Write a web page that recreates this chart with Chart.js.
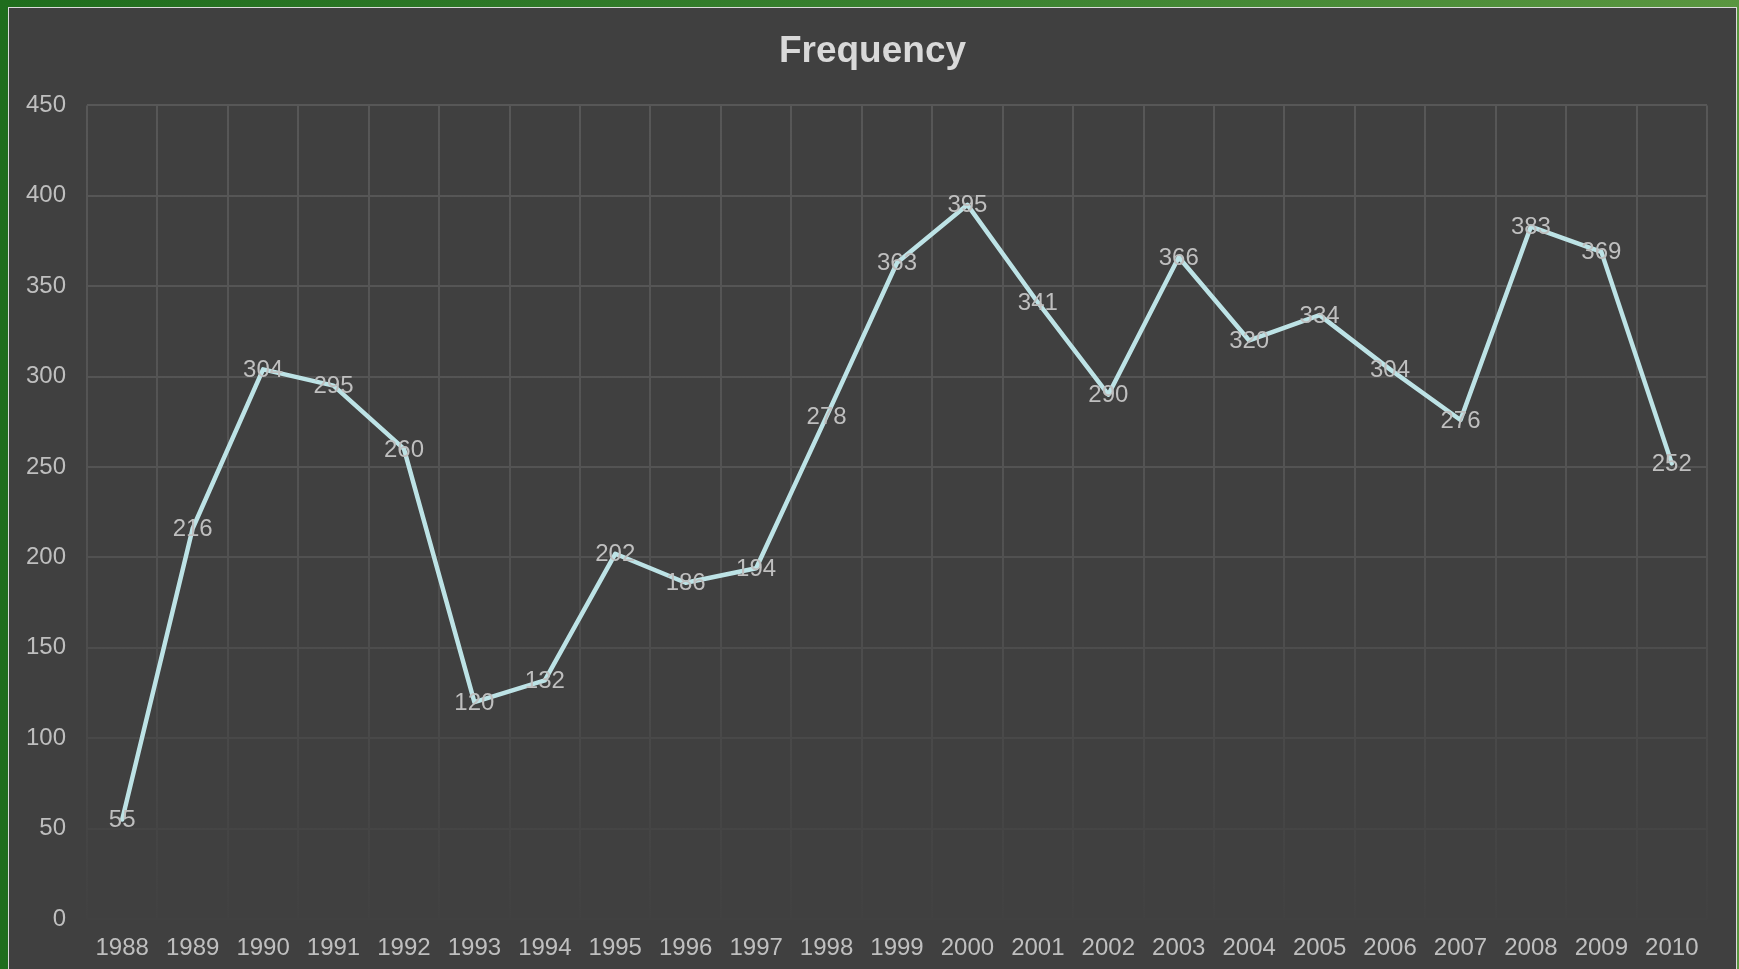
<!DOCTYPE html>
<html>
<head>
<meta charset="utf-8">
<title>Frequency</title>
<script src="https://cdn.jsdelivr.net/npm/chart.js@4/dist/chart.umd.min.js"></script>
<style>
    html, body {
        margin: 0;
        padding: 0;
        width: 1739px;
        height: 969px;
        overflow: hidden;
        background: linear-gradient(to right, #1f6d1d 0%, #3a8230 55%, #5a9640 100%);
    }
    .frame {
        position: absolute;
        left: 8px;
        top: 7px;
        width: 1727px;
        height: 980px;
        border-left: 1px solid #dcdcdc;
        border-top: 1px solid #dcdcdc;
        border-right: 1px solid #dcdcdc;
        background: #404040;
    }
    .chart-box {
        position: relative;
        width: 1727px;
        height: 961px;
    }
</style>
</head>
<body>
<div class="frame">
    <div class="chart-box">
        <canvas id="freqchart"></canvas>
    </div>
</div>
<script>
const years = ['1988', '1989', '1990', '1991', '1992', '1993', '1994', '1995', '1996', '1997', '1998', '1999',
    '2000', '2001', '2002', '2003', '2004', '2005', '2006', '2007', '2008', '2009', '2010'];
const frequency = [55, 216, 304, 295, 260, 120, 132, 202, 186, 194, 278, 363,
    395, 341, 290, 366, 320, 334, 304, 276, 383, 369, 252];
const yTicks = [0, 50, 100, 150, 200, 250, 300, 350, 400, 450];

const labelColor = '#bfbfbf';
const fontFamily = '"Liberation Sans", Arial, sans-serif';

// grid fades out toward the bottom of the plot
let gridGradient = null;
function gridColor(context) {
    const chart = context.chart;
    const area = chart.chartArea;
    if (!area) return '#545454';
    if (!gridGradient) {
        gridGradient = chart.ctx.createLinearGradient(0, area.top, 0, area.bottom);
        gridGradient.addColorStop(0, '#575757');
        gridGradient.addColorStop(0.5, '#535353');
        gridGradient.addColorStop(0.8, '#484848');
        gridGradient.addColorStop(1, '#414141');
    }
    return gridGradient;
}

// value labels sitting on top of each point
const valueLabels = {
    id: 'valueLabels',
    afterDatasetsDraw(chart) {
        const ctx = chart.ctx;
        const meta = chart.getDatasetMeta(0);
        ctx.save();
        ctx.font = '24px ' + fontFamily;
        ctx.fillStyle = labelColor;
        ctx.textAlign = 'center';
        ctx.textBaseline = 'middle';
        meta.data.forEach((pt, i) => {
            ctx.fillText(chart.data.datasets[0].data[i], pt.x, pt.y + 1);
        });
        ctx.restore();
    }
};

const ctx = document.getElementById('freqchart').getContext('2d');
new Chart(ctx, {
    type: 'line',
    data: {
        labels: years,
        datasets: [{
            label: 'Frequency',
            data: frequency,
            borderColor: '#bde3e6',
            borderWidth: 4.5,
            pointRadius: 0,
            pointHoverRadius: 0,
            tension: 0,
            borderJoinStyle: 'round',
            borderCapStyle: 'round'
        }]
    },
    options: {
        responsive: true,
        maintainAspectRatio: false,
        animation: false,
        layout: {
            padding: 0
        },
        plugins: {
            legend: { display: false },
            tooltip: { enabled: false },
            title: {
                display: true,
                text: 'Frequency',
                color: '#d9d9d9',
                font: { family: fontFamily, size: 37, weight: 'bold' },
                padding: { top: 22, bottom: 31 }
            }
        },
        scales: {
            x: {
                offset: true,
                grid: {
                    offset: true,
                    color: gridColor,
                    lineWidth: 2,
                    drawTicks: false
                },
                border: { display: false },
                ticks: {
                    color: labelColor,
                    font: { family: fontFamily, size: 24 },
                    padding: 15,
                    maxRotation: 0,
                    autoSkip: false
                },
                afterFit(scale) {
                    scale.height = 50;
                }
            },
            y: {
                min: 0,
                max: 450,
                afterBuildTicks(scale) {
                    scale.ticks = yTicks.map(v => ({ value: v }));
                },
                grid: {
                    color: gridColor,
                    lineWidth: 2,
                    drawTicks: false
                },
                border: { display: false },
                ticks: {
                    color: labelColor,
                    font: { family: fontFamily, size: 24 },
                    padding: 21
                },
                afterFit(scale) {
                    scale.width = 78;
                }
            },
            // empty right axis, only keeps the margin on the right side
            yRight: {
                position: 'right',
                min: 0,
                max: 450,
                grid: { display: false },
                border: { display: false },
                ticks: { display: false },
                afterFit(scale) {
                    scale.width = 29;
                }
            }
        }
    },
    plugins: [valueLabels]
});
</script>
</body>
</html>
